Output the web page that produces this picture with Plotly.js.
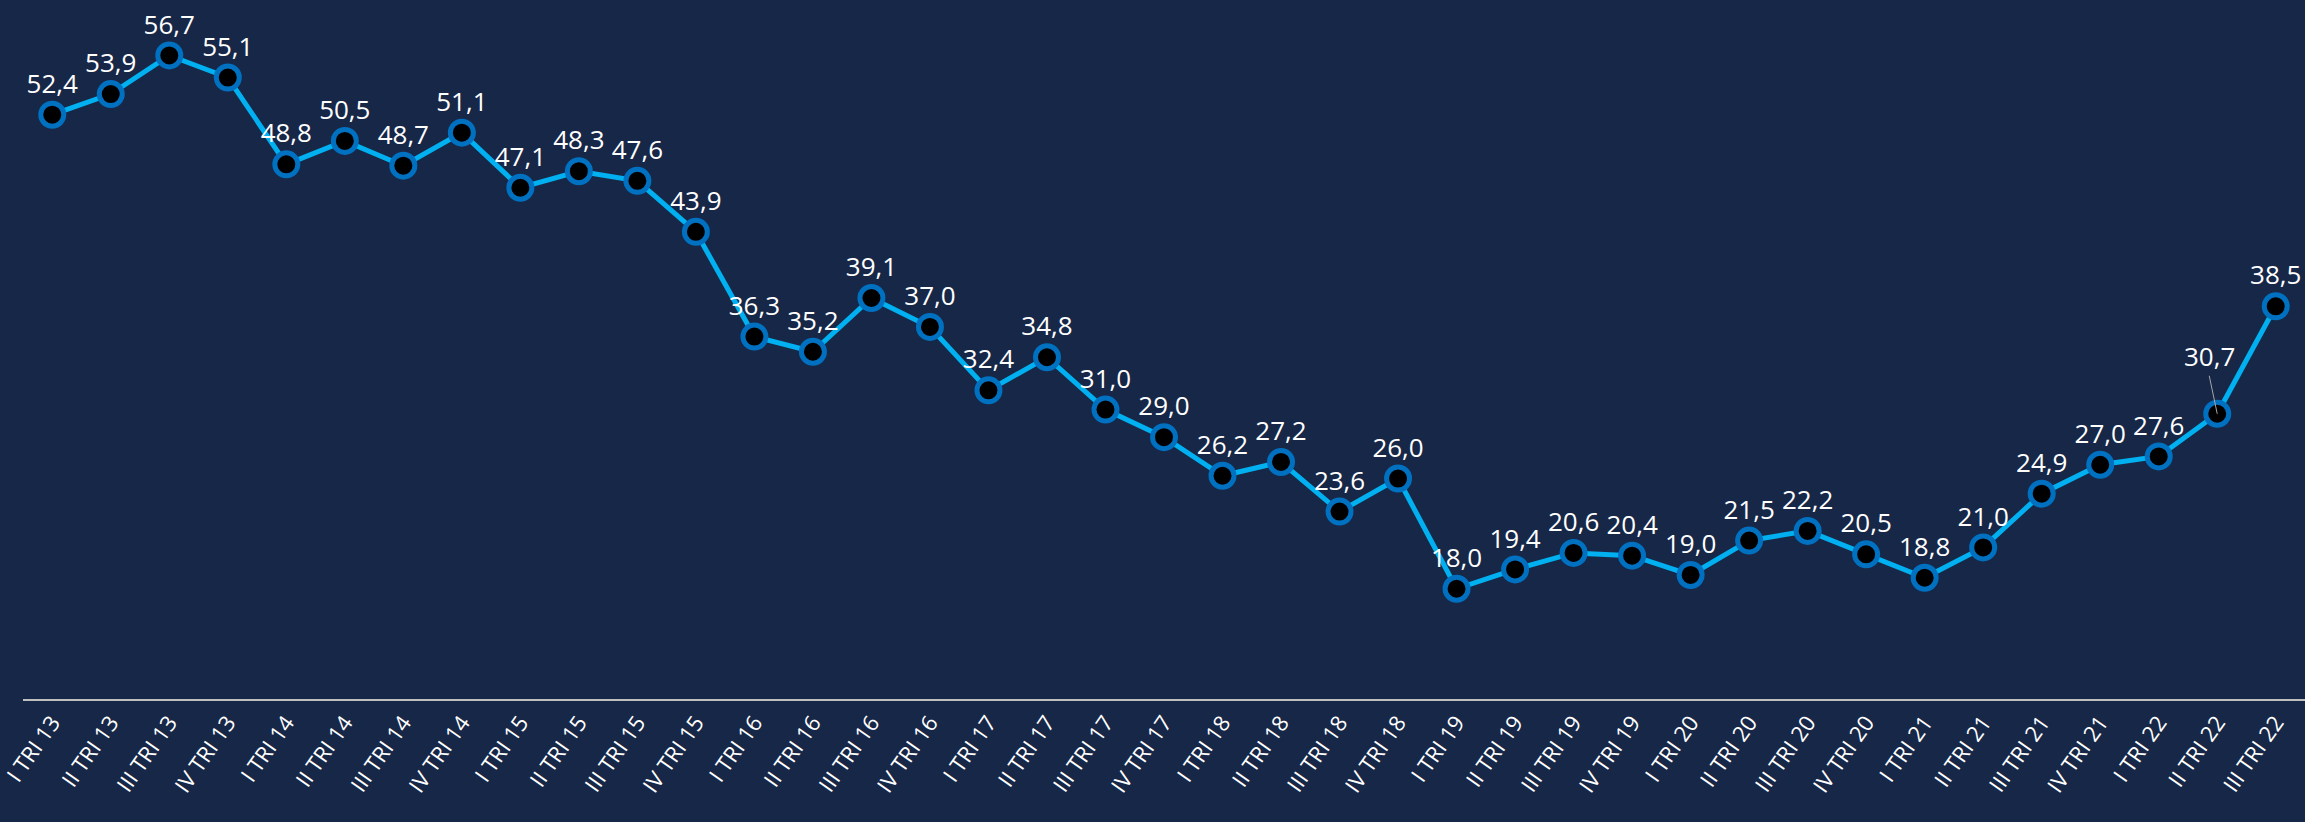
<!DOCTYPE html>
<html>
<head>
<meta charset="utf-8">
<script src="https://cdn.plot.ly/plotly-3.0.1.min.js"></script>
<style>
  html, body { margin: 0; padding: 0; background: #172747; }
  #grafico { width: 2305px; height: 822px; }
</style>
</head>
<body>
<div id="grafico"></div>
<script>
// Trimestri e valori
const trimestri = [
  'I TRI 13', 'II TRI 13', 'III TRI 13', 'IV TRI 13',
  'I TRI 14', 'II TRI 14', 'III TRI 14', 'IV TRI 14',
  'I TRI 15', 'II TRI 15', 'III TRI 15', 'IV TRI 15',
  'I TRI 16', 'II TRI 16', 'III TRI 16', 'IV TRI 16',
  'I TRI 17', 'II TRI 17', 'III TRI 17', 'IV TRI 17',
  'I TRI 18', 'II TRI 18', 'III TRI 18', 'IV TRI 18',
  'I TRI 19', 'II TRI 19', 'III TRI 19', 'IV TRI 19',
  'I TRI 20', 'II TRI 20', 'III TRI 20', 'IV TRI 20',
  'I TRI 21', 'II TRI 21', 'III TRI 21', 'IV TRI 21',
  'I TRI 22', 'II TRI 22', 'III TRI 22'
];
const valori = [
  52.4, 53.9, 56.7, 55.1,
  48.8, 50.5, 48.7, 51.1,
  47.1, 48.3, 47.6, 43.9,
  36.3, 35.2, 39.1, 37.0,
  32.4, 34.8, 31.0, 29.0,
  26.2, 27.2, 23.6, 26.0,
  18.0, 19.4, 20.6, 20.4,
  19.0, 21.5, 22.2, 20.5,
  18.8, 21.0, 24.9, 27.0,
  27.6, 30.7, 38.5
];
// etichetta spostata con linea di richiamo
const idxRichiamo = 37;

const fmt = v => v.toFixed(1).replace('.', ',');
const etichette = valori.map((v, i) => i === idxRichiamo ? '' : fmt(v));

const traccia = {
  x: trimestri,
  y: valori,
  type: 'scatter',
  mode: 'lines+markers+text',
  text: etichette,
  textposition: 'top center',
  textfont: { family: 'Open Sans', size: 26, color: '#ffffff' },
  line: { color: '#00B0F0', width: 5 },
  marker: { size: 23, color: '#000000', line: { color: '#0070C0', width: 5 } },
  cliponaxis: false,
  hoverinfo: 'skip'
};

const layout = {
  width: 2305,
  height: 822,
  paper_bgcolor: '#172747',
  plot_bgcolor: '#172747',
  margin: { l: 23, r: 0, t: 10, b: 123 },
  showlegend: false,
  xaxis: {
    type: 'category',
    range: [-0.5, trimestri.length - 0.5],
    showgrid: false,
    zeroline: false,
    showline: true,
    linecolor: '#BFBFBF',
    linewidth: 2,
    ticks: '',
    tickangle: -55,
    tickfont: { family: 'Open Sans', size: 22, color: '#ffffff' }
  },
  yaxis: {
    range: [10, 60],
    visible: false,
    showgrid: false,
    zeroline: false
  },
  annotations: [{
    x: trimestri[idxRichiamo],
    y: valori[idxRichiamo],
    text: fmt(valori[idxRichiamo]),
    showarrow: true,
    arrowhead: 0,
    arrowwidth: 1,
    arrowcolor: '#A6A6A6',
    ax: -8,
    ay: -38,
    standoff: 0,
    yanchor: 'bottom',
    font: { family: 'Open Sans', size: 26, color: '#ffffff' }
  }]
};

Plotly.newPlot('grafico', [traccia], layout, { displayModeBar: false, staticPlot: true });
</script>
</body>
</html>
